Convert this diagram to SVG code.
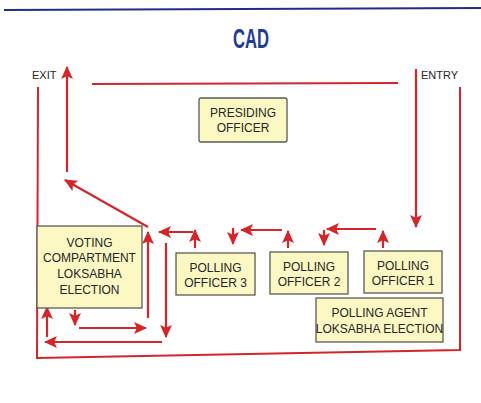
<svg xmlns="http://www.w3.org/2000/svg" width="481" height="403" viewBox="0 0 481 403">
<style>
.box{fill:#fbf8c4;stroke:#5a5a55;stroke-width:1.3}
.t{font-family:"Liberation Sans",Arial,sans-serif;font-size:12px;fill:#262626;text-anchor:middle}
.lbl{font-family:"Liberation Sans",Arial,sans-serif;font-size:11px;fill:#262626}
.c{stroke:#d2262b;stroke-width:2;fill:none}
.a{stroke:#d2262b;stroke-width:2.2;fill:none;marker-end:url(#ah)}
</style>
<defs>
<marker id="ah" markerUnits="userSpaceOnUse" markerWidth="13" markerHeight="13" viewBox="0 0 12 12" refX="11" refY="6" orient="auto">
<path d="M0,0.5 L12,6 L0,11.5 L2.5,6 Z" fill="#d2262b"/>
</marker>
</defs>
<rect width="481" height="403" fill="#fefefe"/>
<line x1="4" y1="10" x2="481" y2="8" stroke="#1d2f8a" stroke-width="2"/>
<text x="251" y="48" font-family="Liberation Sans,Arial,sans-serif" font-weight="bold" font-size="28" fill="#1f3b94" text-anchor="middle" textLength="36" lengthAdjust="spacingAndGlyphs">CAD</text>
<text class="lbl" x="32" y="79">EXIT</text>
<text class="lbl" x="421" y="79">ENTRY</text>
<g id="connectors">
<line class="c" x1="92" y1="84" x2="398" y2="83"/>
<polyline class="c" points="38,87 37,358 460,350 460,87"/>
<line class="a" x1="67" y1="172" x2="67" y2="67"/>
<line class="a" x1="416" y1="69" x2="416" y2="227"/>
<line class="a" x1="148" y1="227" x2="65" y2="180"/>
<line class="a" x1="148" y1="318" x2="148" y2="232"/>
<line class="a" x1="166" y1="243" x2="166" y2="337"/>
<line class="a" x1="193" y1="232" x2="159" y2="232"/>
<line class="a" x1="195" y1="248" x2="195" y2="230"/>
<line class="a" x1="233" y1="228" x2="233" y2="244"/>
<line class="a" x1="282" y1="230" x2="241" y2="230"/>
<line class="a" x1="288" y1="248" x2="288" y2="231"/>
<line class="a" x1="324" y1="230" x2="324" y2="245"/>
<line class="a" x1="376" y1="229" x2="327" y2="229"/>
<line class="a" x1="383" y1="248" x2="383" y2="231"/>
<line class="a" x1="47" y1="337" x2="47" y2="307"/>
<line class="a" x1="75" y1="310" x2="75" y2="325"/>
<line class="a" x1="79" y1="328" x2="146" y2="328"/>
<line class="a" x1="162" y1="342" x2="45" y2="342"/>
</g>
<g id="presiding">
<rect class="box" x="199" y="98" width="88" height="44" rx="2"/>
<text class="t" x="243" y="117">PRESIDING</text>
<text class="t" x="243" y="132">OFFICER</text>
</g>
<g id="voting">
<rect class="box" x="37" y="226" width="105" height="82"/>
<text class="t" x="89.5" y="247">VOTING</text>
<text class="t" x="89.5" y="262">COMPARTMENT</text>
<text class="t" x="89.5" y="278">LOKSABHA</text>
<text class="t" x="89.5" y="294">ELECTION</text>
</g>
<g id="po3">
<rect class="box" x="176" y="253" width="79" height="42"/>
<text class="t" x="215.5" y="272">POLLING</text>
<text class="t" x="215.5" y="287">OFFICER 3</text>
</g>
<g id="po2">
<rect class="box" x="270" y="252" width="78" height="42"/>
<text class="t" x="309" y="271">POLLING</text>
<text class="t" x="309" y="286">OFFICER 2</text>
</g>
<g id="po1">
<rect class="box" x="364" y="251" width="78" height="42"/>
<text class="t" x="403" y="270">POLLING</text>
<text class="t" x="403" y="285">OFFICER 1</text>
</g>
<g id="agent">
<rect class="box" x="316" y="298" width="127" height="44"/>
<text class="t" x="379.5" y="317">POLLING AGENT</text>
<text class="t" x="379.5" y="333">LOKSABHA ELECTION</text>
</g>
</svg>
